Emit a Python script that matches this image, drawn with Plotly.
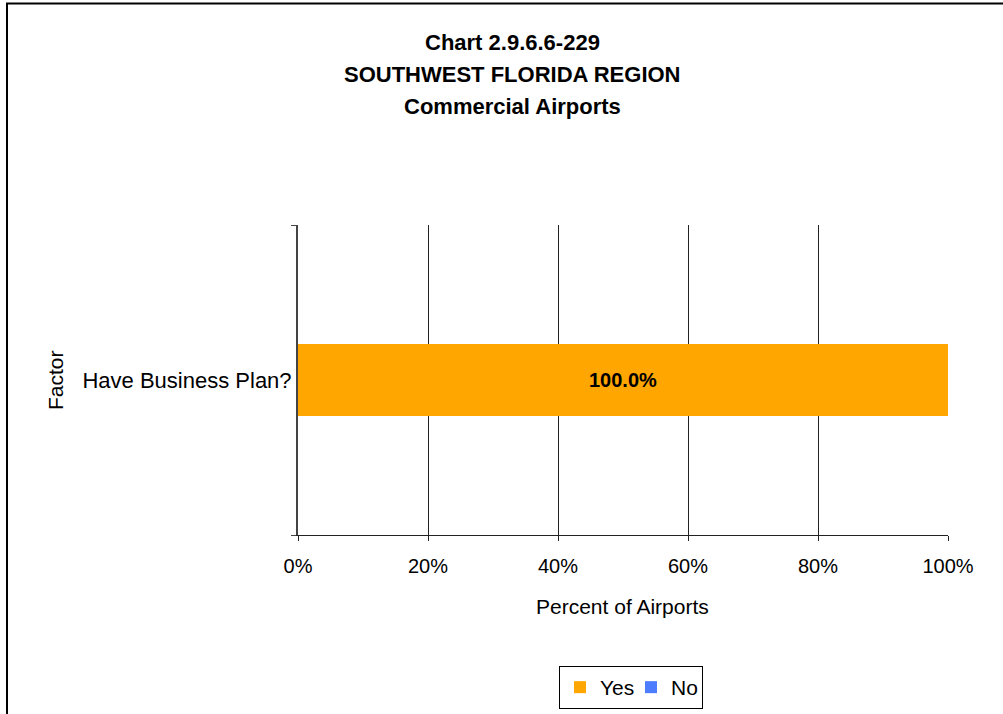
import plotly.graph_objects as go

# ---- data ----
categories = ["Have Business Plan?"]
yes_values = [100.0]
no_values = [0.0]
series_names = ["Yes", "No"]
x_tick_values = [0, 20, 40, 60, 80, 100]
x_tick_labels = ["0%", "20%", "40%", "60%", "80%", "100%"]
title_lines = ["Chart 2.9.6.6-229", "SOUTHWEST FLORIDA REGION", "Commercial Airports"]

FONT = "Liberation Sans, Arial, sans-serif"

W, H = 1003, 714
L, R, T, B = 298, 948, 225, 535


def px(x):
    return (x - L) / (R - L)


def py(y):
    return (B - y) / (B - T)


fig = go.Figure()
fig.add_trace(go.Bar(
    y=categories, x=yes_values, name=series_names[0], orientation="h",
    width=0.23,
    marker=dict(color="#FFA600", line=dict(width=0)),
    text=[f"{v:.1f}%" for v in yes_values], textposition="inside",
    insidetextanchor="middle", textangle=0,
    textfont=dict(family=FONT, size=20, color="black", weight="bold"),
))
fig.add_trace(go.Bar(
    y=categories, x=no_values, name=series_names[1], orientation="h",
    width=0.23,
    marker=dict(color="#4D7CFF", line=dict(width=0)),
))

fig.update_layout(
    width=W, height=H,
    margin=dict(l=L, r=W - R, t=T, b=H - B, autoexpand=False),
    barmode="stack",
    plot_bgcolor="white", paper_bgcolor="white",
    font=dict(family=FONT, size=20, color="black"),
    showlegend=True,
    legend=dict(
        orientation="h", x=px(631), y=py(666), xanchor="center", yanchor="top",
        bordercolor="black", borderwidth=1, font=dict(size=21, family=FONT),
        itemsizing="constant", traceorder="normal",
        entrywidth=26, entrywidthmode="pixels",
    ),
    xaxis=dict(
        range=[0, 100], tickvals=x_tick_values, ticktext=x_tick_labels,
        showgrid=True, gridcolor="#222222", gridwidth=1,
        showline=True, linecolor="#222222", linewidth=1,
        ticks="outside", ticklen=5, tickcolor="#222222",
        tickfont=dict(size=20, family=FONT), ticklabelstandoff=8,
        zeroline=False, fixedrange=True,
    ),
    yaxis=dict(
        showline=True, linecolor="#444444", linewidth=2,
        ticks="outside", ticklen=5, tickcolor="#444444", tickson="boundaries",
        tickfont=dict(size=22, family=FONT), showgrid=False,
        range=[-0.5, 0.5], fixedrange=True,
    ),
)

annotations = []
for line, yc in zip(title_lines, [42, 74, 106]):
    annotations.append(dict(
        text=line, xref="paper", yref="paper", x=px(512), y=py(yc),
        xanchor="center", yanchor="middle", showarrow=False,
        font=dict(family=FONT, size=22, color="black", weight="bold"),
    ))
annotations.append(dict(
    text="Factor", xref="paper", yref="paper", x=px(55), y=py(380),
    xanchor="center", yanchor="middle", showarrow=False, textangle=-90,
    font=dict(family=FONT, size=21, color="black"),
))
annotations.append(dict(
    text="Percent of Airports", xref="paper", yref="paper", x=px(622), y=py(606),
    xanchor="center", yanchor="middle", showarrow=False,
    font=dict(family=FONT, size=21, color="black"),
))
fig.update_layout(annotations=annotations)

# outer chart border (left and top edges visible)
fig.add_shape(
    type="rect", xref="paper", yref="paper",
    x0=px(7), x1=px(1100), y0=py(800), y1=py(3.5),
    line=dict(color="black", width=2), fillcolor="rgba(0,0,0,0)", layer="below",
)

fig.write_html(
    "out.html",
    config={"displayModeBar": False},
    post_script="document.body.style.margin='0';document.body.style.overflow='hidden';",
)
